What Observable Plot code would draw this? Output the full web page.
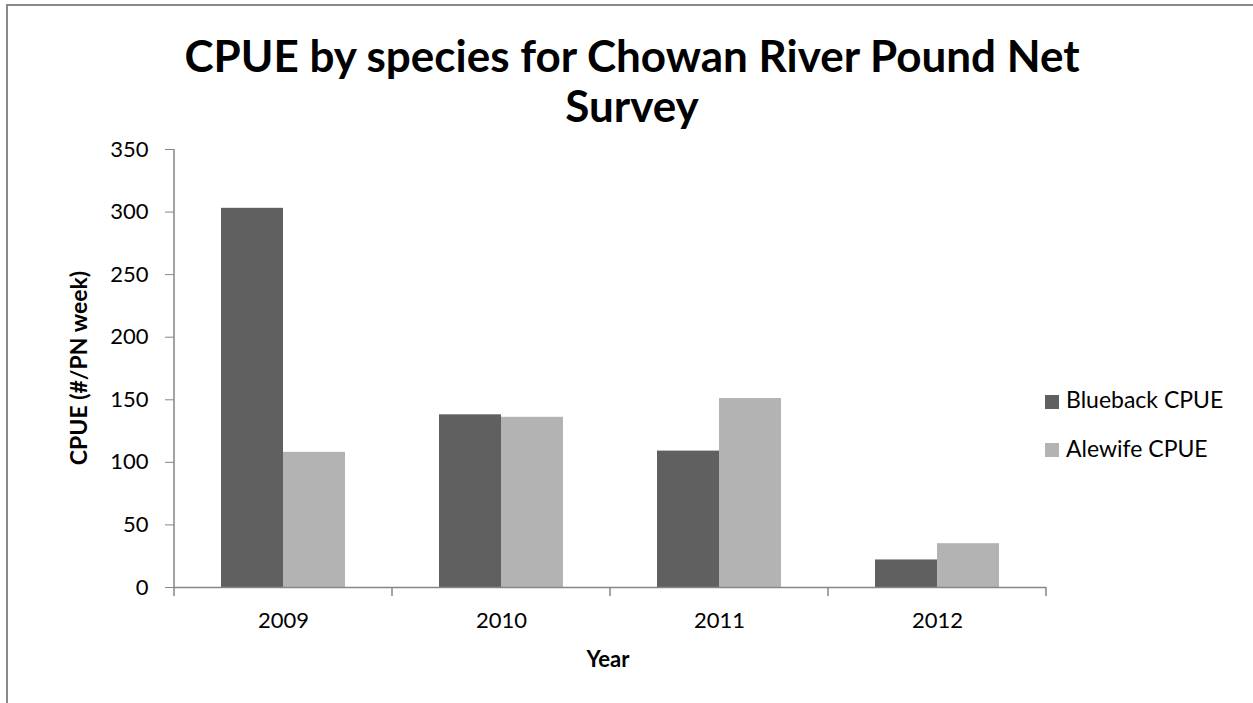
<!DOCTYPE html>
<html>
<head>
<meta charset="utf-8">
<script src="https://cdn.jsdelivr.net/npm/d3@7"></script>
<script src="https://cdn.jsdelivr.net/npm/@observablehq/plot@0.6"></script>
<style>
  body { margin: 0; background: #fff; font-family: Lato, "DejaVu Sans", sans-serif; }
  #chart { position: relative; width: 1253px; height: 703px; overflow: hidden; background: #fff; }
  #frame { position: absolute; left: 6px; top: 4px; width: 1400px; height: 900px;
           border-top: 2px solid #898989; border-left: 2px solid #898989; }
  #title { position: absolute; left: 0; top: 30px; width: 1264px; text-align: center;
           font-weight: bold; font-size: 44px; line-height: 50px; color: #000; }
  #plot { position: absolute; left: 0; top: 130px; }
  #ylabel { position: absolute; left: -72px; top: 355px; width: 300px; height: 26px; line-height: 26px;
            text-align: center; font-weight: bold; font-size: 23px; transform: rotate(-90deg); color: #000; }
  #xlabel { position: absolute; left: 508px; top: 648px; width: 200px; text-align: center;
            font-weight: bold; font-size: 22px; line-height: 22px; color: #000; }
  .key { position: absolute; left: 1045px; font-size: 23px; line-height: 23px; color: #000; white-space: nowrap; }
  .swatch { position: absolute; left: 1045px; width: 14px; height: 14px; }
  .key span { position: absolute; left: 21px; top: 0; }
</style>
</head>
<body>
<div id="chart">
  <div id="frame"></div>
  <div id="title">CPUE by species for Chowan River Pound Net<br>Survey</div>
  <div id="plot"></div>
  <div id="ylabel">CPUE (#/PN week)</div>
  <div id="xlabel">Year</div>
  <div id="legend"></div>
</div>
<script>
// Catch per unit effort by year for the two river herring species
const years = ["2009", "2010", "2011", "2012"];
const series = ["Blueback CPUE", "Alewife CPUE"];
const blueback = [303, 138, 109, 22];
const alewife = [108, 136, 151, 35];
const yTicks = [0, 50, 100, 150, 200, 250, 300, 350];
const seriesColors = ["#606060", "#b3b3b3"];
const axisGray = "#868686";

// long-format table: one row per year and species
const rows = years.flatMap((year, i) => [
  {year, series: series[0], value: blueback[i]},
  {year, series: series[1], value: alewife[i]}
]);

const chart = Plot.plot({
  width: 1253,
  height: 573,
  marginLeft: 173,
  marginRight: 207,
  marginTop: 19,
  marginBottom: 116,
  style: {fontFamily: "Lato, sans-serif", fontSize: "22px", color: "#000", background: "transparent"},
  fx: {domain: years, padding: 0, label: null},
  x: {domain: series, paddingInner: 0, paddingOuter: 0.75, axis: null},
  y: {domain: [0, 350], axis: null},
  color: {domain: series, range: seriesColors},
  marks: [
    Plot.barY(rows, {fx: "year", x: "series", y: "value", fill: "series"}),
    Plot.ruleY([0], {stroke: axisGray, strokeWidth: 1.5}),
    Plot.axisY({ticks: yTicks, tickSize: 9, tickPadding: 17, stroke: axisGray, label: null, tickFormat: d => String(d)}),
    Plot.axisFx({anchor: "bottom", tickSize: 0, tickPadding: 25, label: null})
  ]
});
document.getElementById("plot").append(chart);

// vertical axis line and category-boundary ticks, placed with the chart's own scales
const fx = chart.scale("fx");
const y = chart.scale("y");
const y0 = y.apply(0);
const edges = years.map(d => fx.apply(d)).concat(fx.apply(years[years.length - 1]) + fx.bandwidth);
const g = d3.select(chart).append("g").attr("stroke", axisGray).attr("stroke-width", 1.5);
g.append("line").attr("x1", edges[0]).attr("x2", edges[0]).attr("y1", y.apply(yTicks[yTicks.length - 1])).attr("y2", y0);
g.selectAll("line.edge").data(edges).join("line").attr("class", "edge")
  .attr("x1", d => d).attr("x2", d => d).attr("y1", y0).attr("y2", y0 + 9);

// legend
const legend = document.getElementById("legend");
series.forEach((name, i) => {
  const sw = document.createElement("div");
  sw.className = "swatch";
  sw.style.top = (395 + i * 48) + "px";
  sw.style.background = seriesColors[i];
  legend.append(sw);
  const key = document.createElement("div");
  key.className = "key";
  key.style.top = (388 + i * 49) + "px";
  const label = document.createElement("span");
  label.textContent = name;
  key.append(label);
  legend.append(key);
});
</script>
</body>
</html>
